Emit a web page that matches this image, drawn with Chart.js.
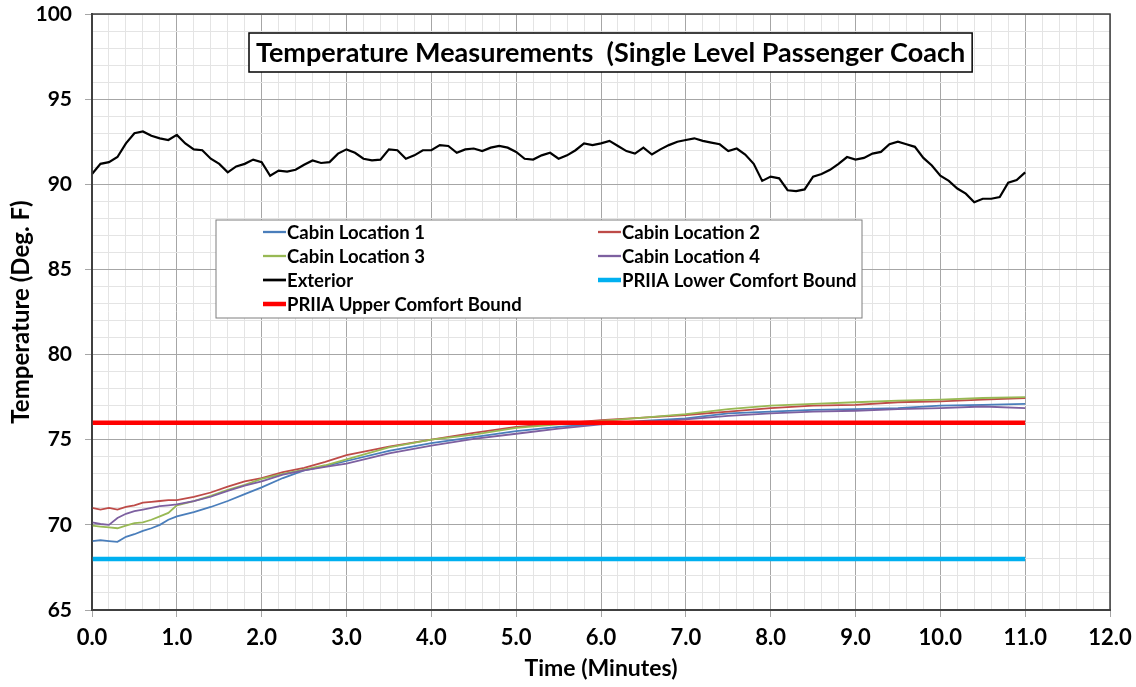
<!DOCTYPE html>
<html>
<head>
<meta charset="utf-8">
<script src="https://cdn.jsdelivr.net/npm/chart.js@4.4.1/dist/chart.umd.min.js"></script>
<style>
  html, body { margin: 0; padding: 0; background: #fff; }
  #wrap { width: 1136px; height: 687px; position: relative; }
</style>
</head>
<body>
<div id="wrap"><canvas id="tempChart"></canvas></div>
<script>
// Exterior temperature, read every 0.1 min
var extTimes = [0.0,0.1,0.2,0.3,0.4,0.5,0.6,0.7,0.8,0.9,1.0,1.1,1.2,1.3,1.4,1.5,1.6,1.7,1.8,1.9,
  2.0,2.1,2.2,2.3,2.4,2.5,2.6,2.7,2.8,2.9,3.0,3.1,3.2,3.3,3.4,3.5,3.6,3.7,3.8,3.9,
  4.0,4.1,4.2,4.3,4.4,4.5,4.6,4.7,4.8,4.9,5.0,5.1,5.2,5.3,5.4,5.5,5.6,5.7,5.8,5.9,
  6.0,6.1,6.2,6.3,6.4,6.5,6.6,6.7,6.8,6.9,7.0,7.1,7.2,7.3,7.4,7.5,7.6,7.7,7.8,7.9,
  8.0,8.1,8.2,8.3,8.4,8.5,8.6,8.7,8.8,8.9,9.0,9.1,9.2,9.3,9.4,9.5,9.6,9.7,9.8,9.9,
  10.0,10.1,10.2,10.3,10.4,10.5,10.6,10.7,10.8,10.9,11.0];
var exterior = [90.6,91.2,91.3,91.6,92.4,93.0,93.1,92.85,92.7,92.6,92.9,92.4,92.05,92.0,91.5,91.2,90.7,91.05,91.2,91.45,
  91.3,90.5,90.8,90.75,90.85,91.15,91.4,91.25,91.3,91.8,92.05,91.85,91.5,91.4,91.45,92.05,92.0,91.5,91.7,92.0,
  92.0,92.3,92.25,91.85,92.05,92.1,91.95,92.15,92.25,92.15,91.9,91.5,91.45,91.7,91.85,91.5,91.7,92.0,92.4,92.3,
  92.4,92.55,92.25,91.95,91.8,92.15,91.75,92.05,92.3,92.5,92.6,92.7,92.55,92.45,92.35,91.95,92.1,91.75,91.2,90.2,
  90.45,90.35,89.65,89.6,89.7,90.45,90.6,90.85,91.2,91.6,91.45,91.55,91.8,91.9,92.35,92.5,92.35,92.2,91.55,91.1,
  90.5,90.2,89.75,89.45,88.95,89.15,89.15,89.25,90.1,90.25,90.7];

// Cabin sensors
var cabinTimes = [0,0.1,0.2,0.3,0.4,0.5,0.6,0.7,0.8,0.9,1.0,1.2,1.4,1.6,1.8,2.0,2.25,2.5,2.75,3.0,
  3.5,4.0,4.5,5.0,5.5,6.0,6.5,7.0,7.5,8.0,8.5,9.0,9.5,10.0,10.5,11.0];
var cabin1 = [69.05,69.1,69.05,69.0,69.3,69.45,69.65,69.8,70.0,70.3,70.5,70.75,71.05,71.4,71.8,72.2,72.75,73.2,73.45,73.75,
  74.35,74.8,75.15,75.5,75.75,75.95,76.1,76.25,76.55,76.65,76.75,76.8,76.85,77.0,77.05,77.1];
var cabin2 = [71.0,70.9,71.0,70.9,71.05,71.15,71.3,71.35,71.4,71.45,71.45,71.65,71.9,72.25,72.55,72.75,73.1,73.35,73.7,74.1,
  74.6,75.0,75.4,75.75,75.95,76.15,76.3,76.45,76.65,76.85,77.0,77.05,77.2,77.25,77.35,77.45];
var cabin3 = [69.95,69.9,69.85,69.8,69.95,70.1,70.15,70.3,70.5,70.7,71.15,71.4,71.7,72.05,72.35,72.7,73.0,73.25,73.5,73.85,
  74.55,75.0,75.3,75.7,75.9,76.1,76.3,76.5,76.8,77.0,77.1,77.2,77.3,77.35,77.45,77.5];
var cabin4 = [70.15,70.05,70.0,70.4,70.65,70.8,70.9,71.0,71.1,71.15,71.2,71.4,71.65,72.0,72.3,72.55,72.95,73.2,73.4,73.6,
  74.2,74.65,75.05,75.35,75.65,75.9,76.0,76.2,76.4,76.55,76.65,76.7,76.8,76.85,76.95,76.85];

// PRIIA comfort bounds
var boundTimes = [0, 11];
var lowerBound = [68, 68];
var upperBound = [76, 76];

function pairs(xs, ys) {
  return xs.map(function(x, i) { return {x: x, y: ys[i]}; });
}
function isWhole(v, step) {
  return Math.abs(v / step - Math.round(v / step)) < 1e-6;
}

var FONT = 'Lato, "Open Sans", sans-serif';

var seriesDefs = [
  {label: 'Cabin Location 1', data: pairs(cabinTimes, cabin1), color: '#4a7ebb', width: 1.8},
  {label: 'Cabin Location 2', data: pairs(cabinTimes, cabin2), color: '#be4b48', width: 1.8},
  {label: 'Cabin Location 3', data: pairs(cabinTimes, cabin3), color: '#98b954', width: 1.8},
  {label: 'Cabin Location 4', data: pairs(cabinTimes, cabin4), color: '#7d60a0', width: 1.8},
  {label: 'Exterior', data: pairs(extTimes, exterior), color: '#000000', width: 2.2},
  {label: 'PRIIA Lower Comfort Bound', data: pairs(boundTimes, lowerBound), color: '#00b0f0', width: 4.5},
  {label: 'PRIIA Upper Comfort Bound', data: pairs(boundTimes, upperBound), color: '#ff0000', width: 4.5}
];

var datasets = seriesDefs.map(function(s, i) {
  return {
    label: s.label,
    data: s.data,
    borderColor: s.color,
    backgroundColor: s.color,
    borderWidth: s.width,
    pointRadius: 0,
    tension: 0,
    order: seriesDefs.length - i
  };
});

// title box, plot frame and in-plot legend
var overlayPlugin = {
  id: 'overlay',
  afterDraw: function(chart) {
    var ctx = chart.ctx, a = chart.chartArea;
    ctx.save();
    // frame
    ctx.strokeStyle = '#404040';
    ctx.lineWidth = 1.5;
    ctx.strokeRect(a.left, a.top, a.right - a.left, a.bottom - a.top);

    // title box
    var title = 'Temperature Measurements  (Single Level Passenger Coach';
    ctx.font = 'bold 27px ' + FONT;
    var tw = ctx.measureText(title).width;
    var bx = a.left + 157, by = a.top + 19, bw = tw + 14, bh = 39;
    ctx.fillStyle = '#fff';
    ctx.fillRect(bx, by, bw, bh);
    ctx.strokeStyle = '#000';
    ctx.lineWidth = 1.5;
    ctx.strokeRect(bx, by, bw, bh);
    ctx.fillStyle = '#000';
    ctx.textBaseline = 'middle';
    ctx.textAlign = 'left';
    ctx.fillText(title, bx + 7, by + bh / 2 + 1);

    // legend
    var lx = a.left + 124, ly = a.top + 206, lw = 646, lh = 98;
    ctx.fillStyle = '#fff';
    ctx.fillRect(lx, ly, lw, lh);
    ctx.strokeStyle = '#7f7f7f';
    ctx.lineWidth = 1;
    ctx.strokeRect(lx, ly, lw, lh);
    ctx.font = 'bold 18.5px ' + FONT;
    var colX = [lx + 47, lx + 382];
    chart.data.datasets.forEach(function(ds, i) {
      var cx = colX[i % 2];
      var cy = ly + 12 + Math.floor(i / 2) * 24;
      ctx.strokeStyle = ds.borderColor;
      ctx.lineWidth = Math.min(ds.borderWidth + 0.5, 4.5);
      ctx.beginPath();
      ctx.moveTo(cx, cy);
      ctx.lineTo(cx + 23, cy);
      ctx.stroke();
      ctx.fillStyle = '#000';
      ctx.fillText(ds.label, cx + 24, cy + 1);
    });
    ctx.restore();
  }
};

var ctx = document.getElementById('tempChart').getContext('2d');
new Chart(ctx, {
  type: 'line',
  data: {datasets: datasets},
  options: {
    responsive: true,
    maintainAspectRatio: false,
    animation: false,
    layout: {padding: {top: 14, right: 26, left: 0, bottom: 0}},
    plugins: {
      legend: {display: false},
      tooltip: {enabled: false}
    },
    scales: {
      x: {
        type: 'linear',
        min: 0, max: 12,
        afterFit: function(scale) { scale.height = 77; scale.paddingLeft = 0; scale.paddingRight = 0; },
        border: {display: true, color: '#404040', width: 2},
        grid: {
          color: function(c) { return isWhole(c.tick.value, 1) ? '#a6a6a6' : '#e4e4e4'; },
          tickColor: function(c) { return isWhole(c.tick.value, 1) ? '#a6a6a6' : 'rgba(0,0,0,0)'; },
          tickLength: 7
        },
        ticks: {
          stepSize: 0.2,
          autoSkip: false,
          maxRotation: 0,
          padding: 8,
          color: '#000',
          font: {family: FONT, size: 22, weight: 'bold'},
          callback: function(v) { return isWhole(v, 1) ? v.toFixed(1) : ''; }
        },
        title: {
          display: true,
          text: 'Time (Minutes)',
          color: '#000',
          font: {family: FONT, size: 23, weight: 'bold'},
          padding: {top: 0, bottom: 5}
        }
      },
      y: {
        min: 65, max: 100,
        afterFit: function(scale) { scale.width = 92; scale.paddingTop = 0; scale.paddingBottom = 0; },
        border: {display: true, color: '#404040', width: 2},
        grid: {
          color: function(c) { return isWhole(c.tick.value, 5) ? '#a6a6a6' : '#e4e4e4'; },
          tickColor: function(c) { return isWhole(c.tick.value, 5) ? '#a6a6a6' : 'rgba(0,0,0,0)'; },
          tickLength: 7
        },
        ticks: {
          stepSize: 1,
          autoSkip: false,
          padding: 13,
          color: '#000',
          font: {family: FONT, size: 21, weight: 'bold'},
          callback: function(v) { return isWhole(v, 5) ? String(v) : ''; }
        },
        title: {
          display: true,
          text: 'Temperature (Deg. F)',
          color: '#000',
          font: {family: FONT, size: 24, weight: 'bold'},
          padding: {top: 7, bottom: 0}
        }
      }
    }
  },
  plugins: [overlayPlugin]
});
</script>
</body>
</html>
